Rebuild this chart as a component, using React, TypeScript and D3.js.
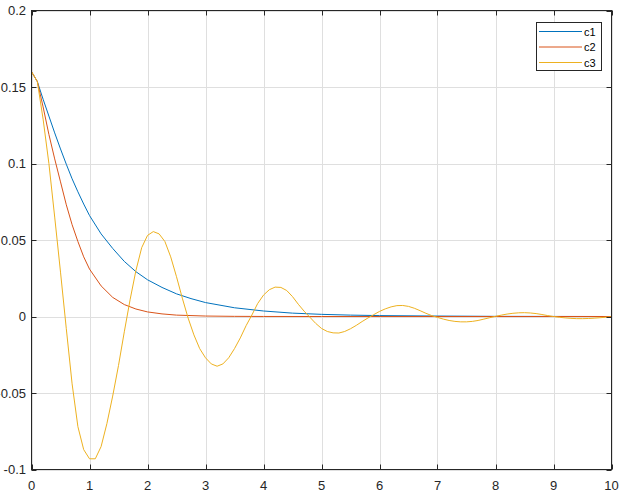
import * as d3 from "d3";

// sample times for c1 / c2 (read at irregular points)
const c1Time = [0, 0.1, 0.2, 0.3, 0.4, 0.5, 0.6, 0.7, 0.8, 0.9, 1.0, 1.2, 1.4, 1.6, 1.8, 2.0, 2.25, 2.5, 2.75, 3.0, 3.5, 4.0, 4.5, 5.0, 5.5, 6.0, 7.0, 8.0, 9.0, 10.0];
const c1Values = [0.16, 0.1536, 0.142, 0.131, 0.12, 0.1095, 0.0995, 0.09, 0.0815, 0.0735, 0.066, 0.054, 0.0445, 0.036, 0.0293, 0.024, 0.019, 0.0148, 0.0117, 0.0091, 0.0057, 0.0036, 0.0022, 0.0014, 0.0009, 0.0006, 0.0003, 0.0001, 0.00005, 0];

const c2Time = [0, 0.1, 0.2, 0.3, 0.4, 0.5, 0.6, 0.7, 0.8, 0.9, 1.0, 1.2, 1.4, 1.6, 1.8, 2.0, 2.25, 2.5, 3.0, 3.5, 4.0, 5.0, 10.0];
const c2Values = [0.16, 0.1536, 0.137, 0.119, 0.103, 0.088, 0.073, 0.06, 0.049, 0.039, 0.031, 0.02, 0.0125, 0.0078, 0.0049, 0.003, 0.0017, 0.0009, 0.0003, 0.0001, 0.00003, 0, 0];

// c3 sampled every 0.1 s
const c3Step = 0.1;
const c3Values = [
  0.16, 0.1536, 0.129, 0.1, 0.065, 0.029, -0.008, -0.044, -0.072, -0.087,
  -0.093, -0.093, -0.085, -0.07, -0.052, -0.032, -0.01, 0.011, 0.03, 0.045,
  0.053, 0.0555, 0.054, 0.049, 0.039, 0.026, 0.012, -0.001, -0.012, -0.021,
  -0.027, -0.031, -0.0325, -0.031, -0.027, -0.021, -0.014, -0.006, 0.001, 0.0085,
  0.014, 0.0175, 0.0192, 0.019, 0.017, 0.013, 0.008, 0.0035, -0.0005, -0.0045,
  -0.0078, -0.0098, -0.0107, -0.0108, -0.0098, -0.008, -0.0058, -0.0033, -0.001, 0.0012,
  0.0033, 0.005, 0.0063, 0.0071, 0.0072, 0.0066, 0.0054, 0.0038, 0.0021, 0.0006,
  -0.0006, -0.0017, -0.0026, -0.0032, -0.0035, -0.0035, -0.0032, -0.0026, -0.0017, -0.0008,
  0.0001, 0.0009, 0.0016, 0.0021, 0.0024, 0.0025, 0.0023, 0.0019, 0.0013, 0.0006,
  0, -0.0005, -0.0009, -0.0012, -0.0014, -0.0014, -0.0013, -0.0011, -0.0008, -0.0005,
  -0.0002,
];

const xTicks = [0, 1, 2, 3, 4, 5, 6, 7, 8, 9, 10];
const yTicks = [-0.1, -0.05, 0, 0.05, 0.1, 0.15, 0.2];
const yTickLabels = ["-0.1", "-0.05", "0", "0.05", "0.1", "0.15", "0.2"];
const seriesNames = ["c1", "c2", "c3"];
const seriesColors = ["#0072BD", "#D95319", "#EDB120"];

const width = 625;
const height = 496;
const left = 31.5;
const right = 611.5;
const top = 10.5;
const bottom = 469.5;
const axisColor = "#262626";
const font = "'Liberation Sans', Arial, sans-serif";

export default function App() {
  const x = d3.scaleLinear().domain([0, 10]).range([left, right]);
  const y = d3.scaleLinear().domain([-0.1, 0.2]).range([bottom, top]);

  const line = d3
    .line<[number, number]>()
    .x((d) => x(d[0]))
    .y((d) => y(d[1]));

  const series: [number, number][][] = [
    c1Time.map((t, i) => [t, c1Values[i]]),
    c2Time.map((t, i) => [t, c2Values[i]]),
    c3Values.map((v, i) => [i * c3Step, v]),
  ];

  const tick = 5;

  return (
    <svg
      width={width}
      height={height}
      style={{ position: "absolute", left: 0, top: 0, background: "white" }}
    >
      <defs>
        <clipPath id="plot-clip">
          <rect x={left} y={top} width={right - left} height={bottom - top} />
        </clipPath>
      </defs>
      {/* grid */}
      <g stroke="#dfdfdf" strokeWidth={1}>
        {xTicks.map((t) => (
          <line key={"gx" + t} x1={Math.round(x(t)) + 0.5} x2={Math.round(x(t)) + 0.5} y1={top} y2={bottom} />
        ))}
        {yTicks.map((t) => (
          <line key={"gy" + t} x1={left} x2={right} y1={Math.round(y(t)) + 0.5} y2={Math.round(y(t)) + 0.5} />
        ))}
      </g>
      {/* curves */}
      <g clipPath="url(#plot-clip)" fill="none" strokeWidth={1}>
        {series.map((s, i) => (
          <path key={seriesNames[i]} d={line(s) ?? ""} stroke={seriesColors[i]} />
        ))}
      </g>
      {/* axes box and ticks */}
      <g stroke={axisColor} strokeWidth={1} fill="none">
        <rect x={left} y={top} width={right - left} height={bottom - top} />
        {xTicks.map((t) => {
          const px = Math.round(x(t)) + 0.5;
          return (
            <g key={"tx" + t}>
              <line x1={px} x2={px} y1={bottom} y2={bottom - tick} />
              <line x1={px} x2={px} y1={top} y2={top + tick} />
            </g>
          );
        })}
        {yTicks.map((t) => {
          const py = Math.round(y(t)) + 0.5;
          return (
            <g key={"ty" + t}>
              <line x1={left} x2={left + tick} y1={py} y2={py} />
              <line x1={right} x2={right - tick} y1={py} y2={py} />
            </g>
          );
        })}
      </g>
      {/* tick labels */}
      <g fill={axisColor} fontFamily={font} fontSize={13}>
        {xTicks.map((t) => (
          <text key={"lx" + t} x={x(t)} y={489.5} textAnchor="middle">
            {String(t)}
          </text>
        ))}
        {yTicks.map((t, i) => (
          <text key={"ly" + t} x={26} y={y(t) + 4.7} textAnchor="end">
            {yTickLabels[i]}
          </text>
        ))}
      </g>
      {/* legend */}
      <g>
        <rect x={536.5} y={22.5} width={65} height={48} fill="white" stroke={axisColor} strokeWidth={1} />
        {seriesNames.map((name, i) => {
          const ly = 31.5 + i * 15.5;
          return (
            <g key={"leg" + name}>
              <line x1={539} x2={582} y1={ly} y2={ly} stroke={seriesColors[i]} strokeWidth={1} />
              <text x={584} y={ly + 4} fontFamily={font} fontSize={11} fill="#000">
                {name}
              </text>
            </g>
          );
        })}
      </g>
    </svg>
  );
}
